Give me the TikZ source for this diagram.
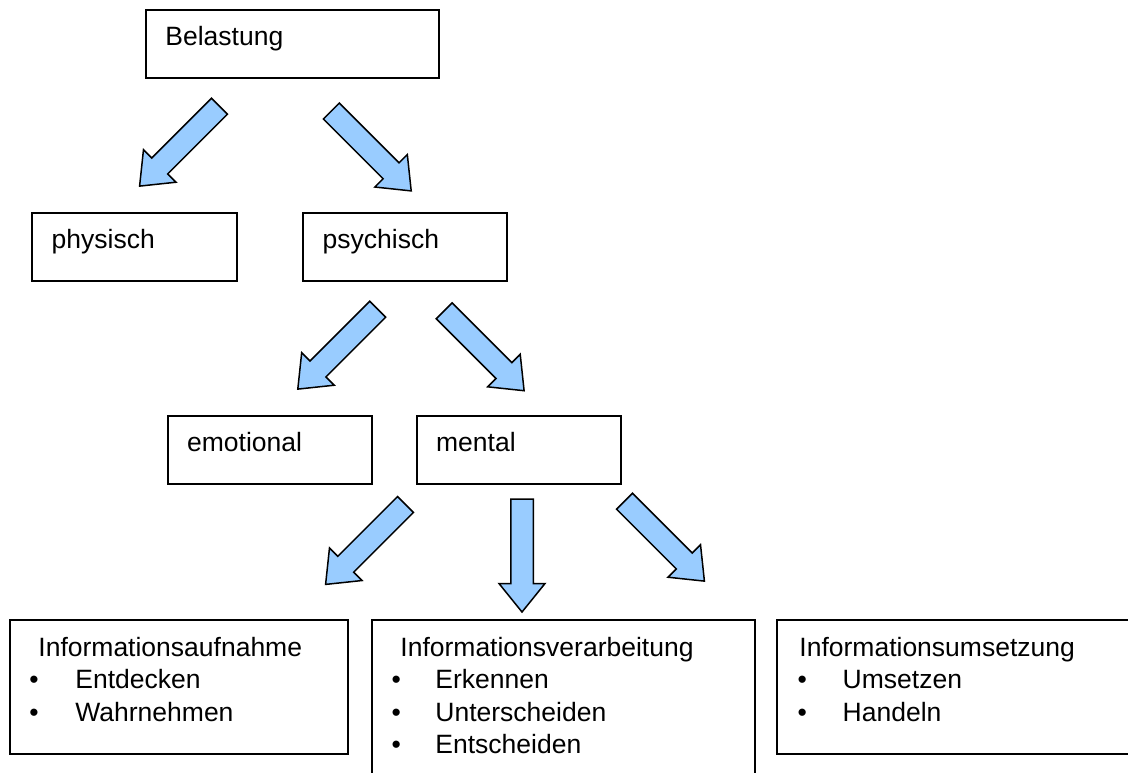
\documentclass[tikz,border=0pt]{standalone}
\usepackage{fontspec}
\setmainfont{Liberation Sans}
\usetikzlibrary{fit,calc}
\definecolor{arrowfill}{HTML}{99CCFF}
\tikzset{
  box/.style={draw=black, line width=1pt, inner sep=0pt, fill=white},
  lbl/.style={anchor=base west, inner sep=0pt, font=\fontsize{13.25pt}{16pt}\selectfont},
  bul/.style={anchor=base, inner sep=0pt, font=\fontsize{13.25pt}{16pt}\selectfont},
  blockarrow/.pic={
    \draw[fill=arrowfill, draw=black, line width=0.75pt, line join=miter]
      (0,-11.25) -- (84.5,-11.25) -- (84.5,-23) -- (113,0)
      -- (84.5,23) -- (84.5,11.25) -- (0,11.25) -- cycle;
  }
}
\begin{document}
\begin{tikzpicture}[x=0.5pt, y=-0.5pt]
  \path[fill=white, use as bounding box] (0,0) rectangle (1128,772);

  % boxes of the hierarchy
  \node[box, fit={(146,10) (439,78)}] (belastung) {};
  \node[box, fit={(32.3,212.7) (236.7,280.7)}] (physisch) {};
  \node[box, fit={(303.3,212.7) (507.3,280.7)}] (psychisch) {};
  \node[box, fit={(167.7,416) (371.7,484)}] (emotional) {};
  \node[box, fit={(416.7,416) (620.7,484)}] (mental) {};
  \node[box, fit={(10,620) (348.3,753.5)}] (aufnahme) {};
  \node[box, fit={(371.7,620) (755,790)}] (verarbeitung) {};
  \node[box, fit={(777.3,620) (1140,753.5)}] (umsetzung) {};

  % box titles
  \node[lbl] (tBel) at ($(belastung.north west)+(20,36.5)$) {Belastung};
  \node[lbl] (tPhy) at ($(physisch.north west)+(20,36.5)$) {physisch};
  \node[lbl] (tPsy) at ($(psychisch.north west)+(20,36.5)$) {psychisch};
  \node[lbl] (tEmo) at ($(emotional.north west)+(20,36.5)$) {emotional};
  \node[lbl] (tMen) at ($(mental.north west)+(20,36.5)$) {mental};

  % Informationsaufnahme
  \node[lbl] (tAuf) at ($(aufnahme.north west)+(29,37)$) {Informationsaufnahme};
  \node[bul] (bA1) at ($(aufnahme.north west)+(25,69.5)$) {•};
  \node[lbl] (iA1) at ($(aufnahme.north west)+(66,69.5)$) {Entdecken};
  \node[bul] (bA2) at ($(aufnahme.north west)+(25,102)$) {•};
  \node[lbl] (iA2) at ($(aufnahme.north west)+(66,102)$) {Wahrnehmen};

  % Informationsverarbeitung
  \node[lbl] (tVer) at ($(verarbeitung.north west)+(29.3,37)$) {Informationsverarbeitung};
  \node[bul] (bV1) at ($(verarbeitung.north west)+(25.6,69.5)$) {•};
  \node[lbl] (iV1) at ($(verarbeitung.north west)+(64.3,69.5)$) {Erkennen};
  \node[bul] (bV2) at ($(verarbeitung.north west)+(25.6,102)$) {•};
  \node[lbl] (iV2) at ($(verarbeitung.north west)+(64.3,102)$) {Unterscheiden};
  \node[bul] (bV3) at ($(verarbeitung.north west)+(25.6,134.5)$) {•};
  \node[lbl] (iV3) at ($(verarbeitung.north west)+(64.3,134.5)$) {Entscheiden};

  % Informationsumsetzung
  \node[lbl] (tUms) at ($(umsetzung.north west)+(22.7,37)$) {Informationsumsetzung};
  \node[bul] (bU1) at ($(umsetzung.north west)+(26,69.5)$) {•};
  \node[lbl] (iU1) at ($(umsetzung.north west)+(66,69.5)$) {Umsetzen};
  \node[bul] (bU2) at ($(umsetzung.north west)+(26,102)$) {•};
  \node[lbl] (iU2) at ($(umsetzung.north west)+(66,102)$) {Handeln};

  % block arrows between the levels
  \pic[rotate=225] at (219.5,106.2) {blockarrow};
  \pic[rotate=315] at (331.3,111) {blockarrow};
  \pic[rotate=225] at (377.7,309.2) {blockarrow};
  \pic[rotate=315] at (444.2,310.8) {blockarrow};
  \pic[rotate=225] at (405.5,504.5) {blockarrow};
  \pic[rotate=270] at (522,499) {blockarrow};
  \pic[rotate=315] at (624.5,501.2) {blockarrow};
\end{tikzpicture}
\end{document}
